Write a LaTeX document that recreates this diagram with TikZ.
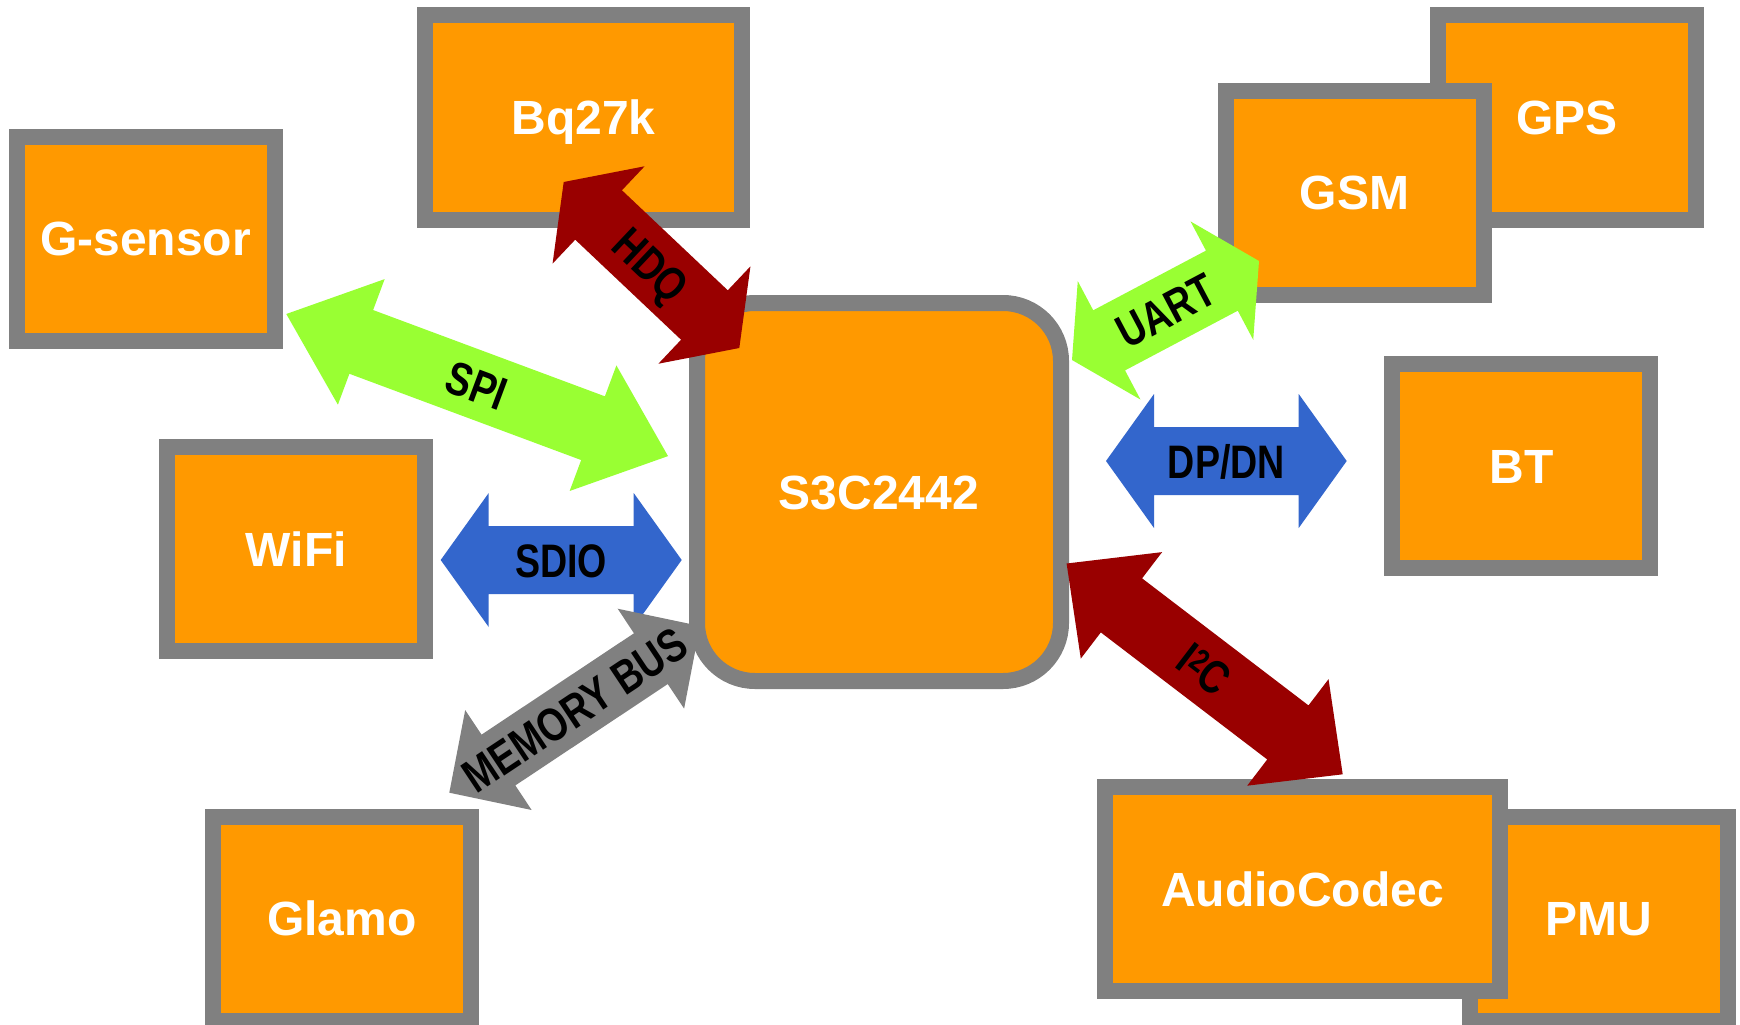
\documentclass[tikz,border=0pt]{standalone}
\usepackage{fontspec}
\usetikzlibrary{calc}
\newfontfamily\boxfont{Liberation Sans}
\newfontfamily\lblfont{Liberation Sans}[FakeStretch=0.8]
\definecolor{boxorange}{RGB}{255,153,0}
\definecolor{boxgray}{RGB}{128,128,128}
\definecolor{busgreen}{RGB}{153,255,51}
\definecolor{busblue}{RGB}{51,102,204}
\definecolor{busred}{RGB}{153,0,0}
% #1 tip A, #2 tip B, #3 colour, #4 label, #5 head length, #6 head half width, #7 shaft half width
\newcommand\blockarrow[7]{%
  \coordinate (ha) at ($(#1)!#5pt!(#2)$);
  \coordinate (hb) at ($(#2)!#5pt!(#1)$);
  \fill[#3] (#1) -- ($(ha)!#6pt!90:(#2)$) -- ($(ha)!#7pt!90:(#2)$)
    -- ($(hb)!#7pt!-90:(#1)$) -- ($(hb)!#6pt!-90:(#1)$) -- (#2)
    -- ($(hb)!#6pt!90:(#1)$) -- ($(hb)!#7pt!90:(#1)$)
    -- ($(ha)!#7pt!-90:(#2)$) -- ($(ha)!#6pt!-90:(#2)$) -- cycle;
  \path (#1) -- (#2) node[midway, sloped, lbl] {#4};
}
\tikzset{
  blockbox/.style={shape=rectangle, draw=boxgray, line width=16pt, fill=boxorange,
    minimum width=258pt, minimum height=204pt, inner sep=0pt,
    text=white, font=\boxfont\bfseries\fontsize{48pt}{56pt}\selectfont,
    text height=34.4pt, text depth=0pt},
  lbl/.style={inner sep=0pt, text=black, text height=34pt, text depth=0pt,
    font=\lblfont\bfseries\fontsize{47pt}{56pt}\selectfont}
}
\begin{document}
\begin{tikzpicture}[x=1pt, y=-1pt]
\fill[white] (0,0) rectangle (1740,1025);
\useasboundingbox (0,0) rectangle (1740,1025);
\clip (0,0) rectangle (1740,1025);

% boxes
\node[blockbox, rounded corners=58pt, minimum width=364pt, minimum height=378pt] (cpu) at (879,492) {S3C2442};
\node[blockbox, minimum width=317pt] (bq) at (583.5,117.5) {Bq27k};
\node[blockbox] (gs) at (145.5,238.5) {G-sensor};
\node[blockbox] (gps) at (1567,117.5) {GPS};
\node[blockbox] (gsm) at (1354.5,192.5) {GSM};
\node[blockbox] (bt) at (1521.4,466) {BT};
\node[blockbox] (wifi) at (296.3,549.3) {WiFi};
\node[blockbox] (glamo) at (341.8,918.5) {Glamo};
\node[blockbox] (pmu) at (1599,918.5) {PMU};
\node[blockbox, minimum width=395pt] (codec) at (1302.5,889) {AudioCodec};

% arrow end points
\coordinate (hdqA) at (563.7,182);
\coordinate (hdqB) at (739.3,348);
\coordinate (spiA) at (286.3,314);
\coordinate (spiB) at (668,456.1);
\coordinate (sdioA) at (440.7,560);
\coordinate (sdioB) at (681.7,560);
\coordinate (memA) at (449.3,792.7);
\coordinate (memB) at (700,626);
\coordinate (uartA) at (1072,360);
\coordinate (uartB) at (1259,261);
\coordinate (dpA) at (1106,461);
\coordinate (dpB) at (1346.7,461);
\coordinate (i2cA) at (1066.6,563.5);
\coordinate (i2cB) at (1342.7,774.3);

\blockarrow{spiA}{spiB}{busgreen}{SPI}{80}{67}{34}
\blockarrow{hdqA}{hdqB}{busred}{HDQ}{48}{67}{34}
\blockarrow{sdioA}{sdioB}{busblue}{SDIO}{48}{67}{34}
\blockarrow{memA}{memB}{boxgray}{MEMORY BUS}{59}{60}{30.5}
\blockarrow{uartA}{uartB}{busgreen}{UART}{42}{67}{34}
\blockarrow{dpA}{dpB}{busblue}{DP/DN}{48}{67}{34}
\blockarrow{i2cA}{i2cB}{busred}{I\textsuperscript{2}C}{69}{67}{34}
\end{tikzpicture}
\end{document}
